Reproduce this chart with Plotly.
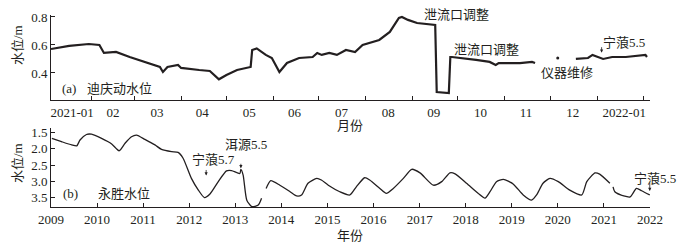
import plotly.graph_objects as go

# ---------------- data: (a) Diqing dynamic water level (m) ----------------
a_dates = ["2021-01-05", "2021-01-17", "2021-01-30", "2021-02-06", "2021-02-09", "2021-02-17",
           "2021-02-26", "2021-03-11", "2021-03-18", "2021-03-20", "2021-03-23", "2021-03-30",
           "2021-04-01", "2021-04-13", "2021-04-20", "2021-04-26", "2021-05-01", "2021-05-08",
           "2021-05-17", "2021-05-18", "2021-05-21", "2021-05-27", "2021-05-31", "2021-06-05",
           "2021-06-10", "2021-06-18", "2021-06-27", "2021-06-30", "2021-07-03", "2021-07-08",
           "2021-07-13", "2021-07-19", "2021-07-25", "2021-07-30", "2021-08-10", "2021-08-17",
           "2021-08-23", "2021-08-25", "2021-08-29", "2021-09-04", "2021-09-16", "2021-09-17",
           "2021-09-25", "2021-09-26", "2021-09-27", "2021-10-13", "2021-10-22", "2021-10-26",
           "2021-10-28", "2021-11-11", "2021-11-19", "2021-11-21", "2021-12-01",
           "2021-12-18", "2021-12-26", "2021-12-29", "2022-01-02", "2022-01-05", "2022-01-11",
           "2022-01-20", "2022-02-02", "2022-02-03"]
a_values = [0.571, 0.593, 0.607, 0.600, 0.543, 0.550,
            0.514, 0.471, 0.443, 0.407, 0.443, 0.457,
            0.436, 0.421, 0.414, 0.355, 0.386, 0.421,
            0.443, 0.564, 0.575, 0.529, 0.507, 0.407,
            0.471, 0.507, 0.514, 0.543, 0.529, 0.543,
            0.529, 0.564, 0.550, 0.600, 0.636, 0.693,
            0.793, 0.800, 0.779, 0.757, 0.743, 0.264,
            0.257, 0.514, 0.514, 0.493, 0.479, 0.457,
            0.471, 0.471, 0.479, 0.471, None,
            0.500, 0.507, 0.529, 0.514, 0.500, 0.514,
            0.514, 0.529, 0.514]
a_single_date = ["2021-12-06"]
a_single_value = [0.507]

a_month_starts = ["2021-02-01", "2021-03-01", "2021-04-01", "2021-05-01", "2021-06-01", "2021-07-01",
                  "2021-08-01", "2021-09-01", "2021-10-01", "2021-11-01", "2021-12-01", "2022-01-01",
                  "2022-02-01"]
a_label_dates = ["2021-01-19", "2021-02-15", "2021-03-16", "2021-04-15", "2021-05-16", "2021-06-15",
                 "2021-07-16", "2021-08-16", "2021-09-15", "2021-10-16", "2021-11-15", "2021-12-16",
                 "2022-01-19"]
a_label_text = ["2021-01", "02", "03", "04", "05", "06", "07", "08", "09", "10", "11", "12", "2022-01"]

# ---------------- data: (b) Yongsheng water level (m) ----------------
b_dates = ["2009-01-08", "2009-03-25", "2009-06-14", "2009-07-24", "2009-08-19", "2009-10-09",
           "2009-11-18", "2010-02-06", "2010-04-27", "2010-06-25", "2010-08-11", "2010-10-01",
           "2010-11-10", "2011-01-15", "2011-04-05", "2011-05-27", "2011-08-15", "2011-10-05",
           "2011-11-14", "2012-01-19", "2012-03-14", "2012-05-01", "2012-06-14", "2012-08-19",
           "2012-10-23", "2012-12-02", "2013-02-06", "2013-02-14", "2013-03-04", "2013-04-02",
           "2013-05-12", "2013-07-02", "2013-07-28", "2013-08-15",
           "2013-09-02", "2013-10-09", "2013-12-20", "2014-03-11", "2014-05-01", "2014-06-10",
           "2014-07-31", "2014-10-09", "2014-11-14", "2015-01-08", "2015-04-09", "2015-06-28",
           "2015-08-18", "2015-10-23", "2015-12-02", "2016-02-21", "2016-04-12", "2016-06-06",
           "2016-08-25", "2016-10-30", "2017-01-04", "2017-04-20", "2017-06-25", "2017-08-29",
           "2017-10-09", "2018-01-08", "2018-04-09", "2018-06-03", "2018-07-13", "2018-09-02",
           "2018-10-27", "2019-01-12", "2019-04-02", "2019-06-07", "2019-07-17", "2019-09-06",
           "2019-10-31", "2020-01-05", "2020-04-05", "2020-07-09", "2020-08-18", "2020-10-23",
           "2020-11-28", "2021-02-17", "2021-03-01",
           "2021-03-14", "2021-03-28", "2021-06-07", "2021-07-28", "2021-09-16", "2021-10-27",
           "2021-12-30"]
b_values = [1.68, 1.78, 1.88, 1.91, 1.73, 1.56,
            1.55, 1.68, 1.85, 2.06, 1.83, 1.63,
            1.58, 1.71, 1.88, 2.02, 2.09, 2.11,
            2.29, 2.91, 3.27, 3.50, 3.39, 3.01,
            2.68, 2.67, 2.76, 2.63, 2.81, 3.58,
            3.78, 3.73, 3.52, None,
            3.22, 2.98, 3.12, 3.32, 3.45, 3.42,
            3.06, 2.91, 2.96, 3.12, 3.32, 3.42,
            3.17, 2.89, 2.96, 3.22, 3.37, 3.22,
            2.91, 2.63, 2.74, 3.12, 3.01, 2.74,
            2.77, 3.06, 3.37, 3.52, 3.32, 3.01,
            2.94, 3.08, 3.42, 3.58, 3.42, 3.06,
            2.91, 3.01, 3.27, 3.42, 3.01, 2.74,
            2.78, 3.06, None,
            3.17, 3.32, 3.45, 3.48, 3.22, 3.29,
            3.42]

a_yticks = [0.4, 0.6, 0.8]
b_yticks = [1.5, 2.0, 2.5, 3.0, 3.5]
b_ytick_text = ["1.5", "2.0", "2.5", "3.0", "3.5"]

# ---------------- figure ----------------
INK = "#231f20"
FONT = "Times New Roman, Liberation Serif, Noto Sans CJK SC"
W, H = 681, 246
L, R, T, B = 51, 31, 15, 39
PW, PH = W - L - R, H - T - B


def px(xp):
    return (xp - L) / PW


def py(yp):
    return (H - B - yp) / PH


fig = go.Figure()
fig.add_trace(go.Scatter(x=a_dates, y=a_values, mode="lines", line=dict(color=INK, width=2.2),
                         connectgaps=False, xaxis="x", yaxis="y", showlegend=False))
fig.add_trace(go.Scatter(x=a_single_date, y=a_single_value, mode="markers",
                         marker=dict(color=INK, size=3), xaxis="x", yaxis="y", showlegend=False))
fig.add_trace(go.Scatter(x=b_dates, y=b_values, mode="lines",
                         line=dict(color=INK, width=1.3, shape="spline", smoothing=0.6),
                         connectgaps=False, xaxis="x2", yaxis="y2", showlegend=False))

axis_common = dict(showline=True, linecolor=INK, linewidth=1, showgrid=False, zeroline=False,
                   tickfont=dict(family=FONT, size=13, color=INK), tickcolor=INK,
                   automargin=False)

fig.update_layout(
    width=W, height=H,
    margin=dict(l=L, r=R, t=T, b=B, pad=0),
    paper_bgcolor="white", plot_bgcolor="white",
    font=dict(family=FONT, size=13, color=INK),
    xaxis=dict(**axis_common, type="date", domain=[0, 1], anchor="y",
               range=["2021-01-05", "2022-02-05"],
               tickmode="array", tickvals=a_label_dates, ticktext=a_label_text, ticks="",
               minor=dict(tickmode="array", tickvals=a_month_starts, ticks="inside", ticklen=4,
                          tickcolor=INK, showgrid=False)),
    yaxis=dict(**axis_common, domain=[py(100), 1.0], anchor="x", range=[0.207, 0.814],
               tickmode="array", tickvals=a_yticks, ticks="inside", ticklen=4, tickformat=".1f"),
    xaxis2=dict(**axis_common, type="date", domain=[0, 1], anchor="y2",
                range=["2009-01-01", "2022-01-01"], dtick="M12", tick0="2009-01-01",
                tickformat="%Y", ticks="inside", ticklen=4),
    yaxis2=dict(**axis_common, domain=[0, py(128)], anchor="x2", range=[3.79, 1.36],
                tickmode="array", tickvals=b_yticks, ticktext=b_ytick_text, ticks="inside", ticklen=4),
)

text_style = dict(showarrow=False, font=dict(family=FONT, size=13, color=INK))
labels = [
    ("水位/m", 17, 45, -90, "center"),
    ("水位/m", 17, 163, -90, "center"),
    ("月份", 350, 125, 0, "center"),
    ("年份", 350, 235, 0, "center"),
    ("(a)", 60, 88, 0, "left"),
    ("迪庆动水位", 85, 88, 0, "left"),
    ("(b)", 61, 193, 0, "left"),
    ("永胜水位", 96, 193, 0, "left"),
    ("泄流口调整", 422, 14, 0, "left"),
    ("泄流口调整", 452, 49, 0, "left"),
    ("仪器维修", 539, 72, 0, "left"),
    ("宁蒗5.5", 601, 42, 0, "left"),
    ("宁蒗5.7", 190, 159, 0, "left"),
    ("洱源5.5", 223, 144, 0, "left"),
    ("宁蒗5.5", 632, 178, 0, "left"),
]
for txt, xp, yp, ang, anchor in labels:
    fig.add_annotation(text=txt, xref="paper", yref="paper", x=px(xp), y=py(yp),
                       xanchor=anchor, yanchor="middle", textangle=ang, **text_style)

arrow_style = dict(text="", showarrow=True, arrowhead=2, arrowsize=0.8, arrowwidth=0.8,
                   arrowcolor=INK, ax=0)
fig.add_annotation(x="2022-01-04", y=0.545, xref="x", yref="y", ay=-7, **arrow_style)
fig.add_annotation(x="2012-05-15", y=2.82, xref="x2", yref="y2", ay=-7, **arrow_style)
fig.add_annotation(x="2013-02-14", y=2.6, xref="x2", yref="y2", ay=-6, **arrow_style)
fig.add_annotation(x="2021-12-30", y=3.3, xref="x2", yref="y2", ay=-10, **arrow_style)

fig.write_html("out.html", config={"displayModeBar": False},
               post_script="document.body.style.margin='0';")
